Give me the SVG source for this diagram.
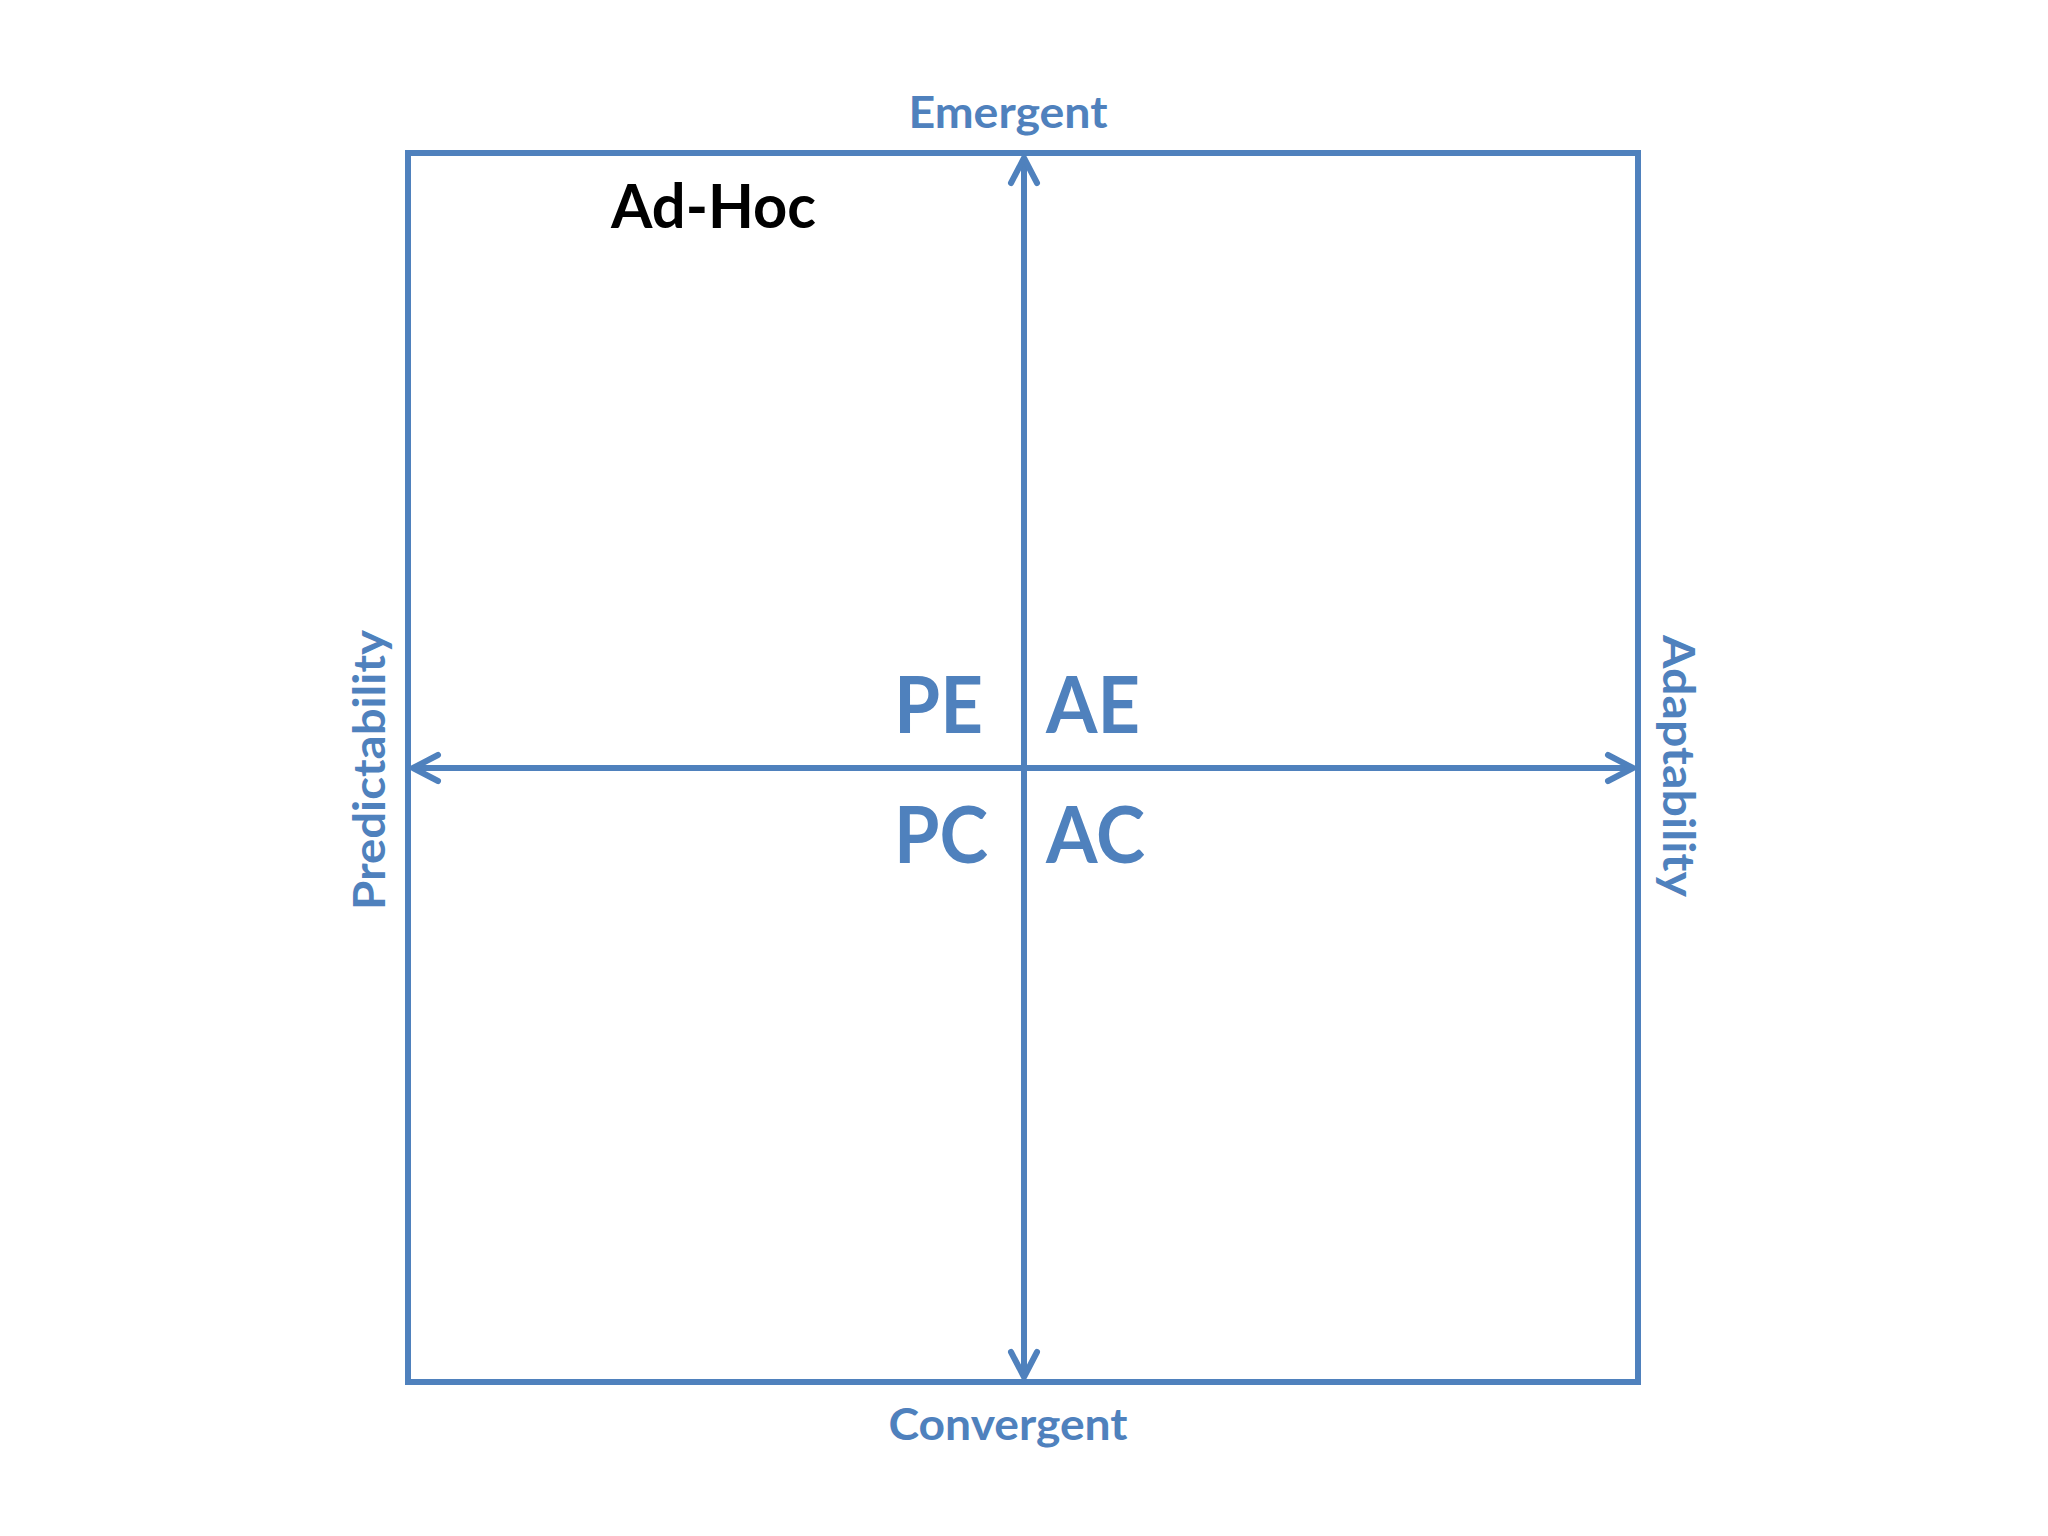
<svg xmlns="http://www.w3.org/2000/svg" width="2048" height="1536" viewBox="0 0 2048 1536">
  <style>
    .axis { fill: #4F81BD; font-family: Lato, "Liberation Sans", sans-serif; font-weight: 700; }
    .quad { fill: #4F81BD; font-family: Lato, "Liberation Sans", sans-serif; font-weight: 700; font-size: 78px; }
    .line { stroke: #4F81BD; stroke-width: 6; fill: none; }
  </style>
  <defs>
    <marker id="chev" markerUnits="userSpaceOnUse" viewBox="-35 -20 40 40" markerWidth="40" markerHeight="40" refX="0" refY="0" orient="auto-start-reverse" overflow="visible">
      <path d="M -26 -13 L -1 0 L -26 13" fill="none" stroke="#4F81BD" stroke-width="6" stroke-linecap="round" stroke-linejoin="round"/>
    </marker>
  </defs>
  <rect width="2048" height="1536" fill="#ffffff"/>
  <g id="frame">
    <rect class="line" x="408" y="153" width="1230" height="1229"/>
  </g>
  <g id="connectors">
    <line class="line" x1="1024" y1="157" x2="1024" y2="1378" marker-start="url(#chev)" marker-end="url(#chev)"/>
    <line class="line" x1="412" y1="768" x2="1634" y2="768" marker-start="url(#chev)" marker-end="url(#chev)"/>
  </g>
  <g id="label-emergent"><text class="axis" x="1008" y="128" font-size="44" text-anchor="middle" textLength="199" lengthAdjust="spacingAndGlyphs">Emergent</text></g>
  <g id="label-convergent"><text class="axis" x="1008" y="1440" font-size="44" text-anchor="middle" textLength="239" lengthAdjust="spacingAndGlyphs">Convergent</text></g>
  <g id="label-predictability"><text class="axis" font-size="44" text-anchor="middle" textLength="280" lengthAdjust="spacingAndGlyphs" transform="translate(385,770) rotate(-90)">Predictability</text></g>
  <g id="label-adaptability"><text class="axis" font-size="44" text-anchor="middle" textLength="262" lengthAdjust="spacingAndGlyphs" transform="translate(1663,766) rotate(90)">Adaptability</text></g>
  <g id="label-adhoc"><text x="611" y="228" font-family="Lato, 'Liberation Sans', sans-serif" font-weight="700" font-size="61" fill="#000000" textLength="205" lengthAdjust="spacingAndGlyphs">Ad-Hoc</text></g>
  <g id="quad-pe"><text class="quad" x="894" y="733" textLength="89" lengthAdjust="spacingAndGlyphs">PE</text></g>
  <g id="quad-ae"><text class="quad" x="1046" y="733" textLength="94" lengthAdjust="spacingAndGlyphs">AE</text></g>
  <g id="quad-pc"><text class="quad" x="894" y="863" textLength="94" lengthAdjust="spacingAndGlyphs">PC</text></g>
  <g id="quad-ac"><text class="quad" x="1046" y="863" textLength="99" lengthAdjust="spacingAndGlyphs">AC</text></g>
</svg>
